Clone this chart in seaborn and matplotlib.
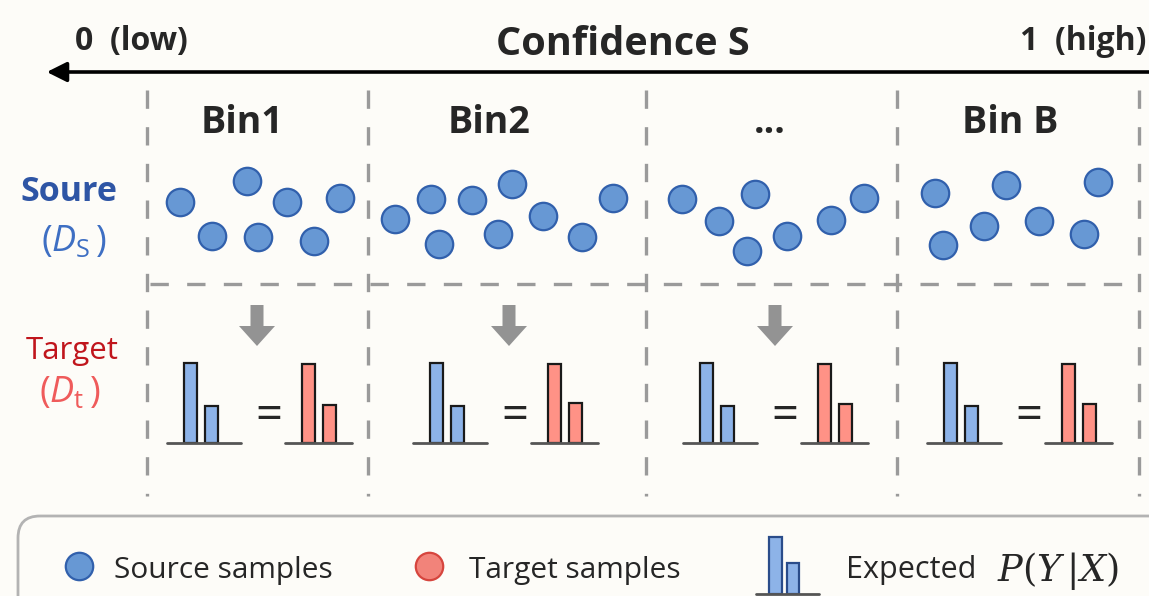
import numpy as np
import pandas as pd
import matplotlib.pyplot as plt
from matplotlib.patches import FancyBboxPatch, FancyArrow
import seaborn as sns

# confidence bins
bin_names = ["Bin1", "Bin2", "...", "Bin B"]

# source sample positions inside each bin (pixel coords, origin top-left)
bin1_x = [180, 212, 247, 258, 287, 314, 340]
bin1_y = [202, 236, 181, 237, 202, 241, 198]
bin2_x = [395, 431, 439, 472, 498, 512, 543, 582, 613]
bin2_y = [219, 199, 244, 200, 234, 184, 216, 237, 198]
bin3_x = [682, 719, 755, 747, 787, 831, 864]
bin3_y = [199, 221, 194, 251, 236, 220, 198]
binB_x = [935, 943, 984, 1006, 1039, 1084, 1098]
binB_y = [193, 245, 226, 185, 221, 234, 182]

# P(Y|X) per bin, two classes (tallest bar = 1)
source_hist = [[1.0, 0.46], [1.0, 0.46], [1.0, 0.46], [1.0, 0.46]]
target_hist = [[0.99, 0.47], [0.99, 0.50], [0.99, 0.49], [0.99, 0.49]]
legend_hist = [1.0, 0.54]

# layout (pixels)
W, H = 1149, 596
BG = "#FDFCF8"
bin_edges = [147, 368, 646, 897, 1139]
title_x = [242, 489, 770, 1010]
group_c = [259, 505, 775, 1019]
arrow_x = [257, 509, 775]

BLUE_DOT, BLUE_EDGE = "#6798D4", "#3160AC"
RED_DOT, RED_EDGE = "#F2837A", "#D6453E"
BLUE_BAR, RED_BAR = "#8DB3E8", "#FF9286"
GREY = "#9A9A9A"

sns.set_theme(style="white")
plt.rcParams["font.family"] = ["Open Sans", "DejaVu Sans"]
plt.rcParams["mathtext.fontset"] = "custom"
plt.rcParams["mathtext.rm"] = "Open Sans"
plt.rcParams["mathtext.it"] = "Open Sans:italic"
plt.rcParams["mathtext.bf"] = "Open Sans:bold"

fig = plt.figure(figsize=(W / 100, H / 100), dpi=100, facecolor=BG)
ax = fig.add_axes([0, 0, 1, 1])
ax.set_xlim(0, W)
ax.set_ylim(H, 0)
ax.axis("off")


def px_axes(x0, y_top, w, h):
    return fig.add_axes([x0 / W, 1 - (y_top + h) / H, w / W, h / H])


def draw_hist(x0, base_y, width, vals, face, edge, unit=21.2, height=80, off=23.3, bw=0.63):
    iax = px_axes(x0, base_y - height * 1.03, width, height * 1.03)
    sns.barplot(x=["c1", "c2"], y=vals, color=face, saturation=1, width=bw,
                edgecolor=edge, linewidth=1.6, ax=iax)
    iax.set_xlim(-off / unit, (width - off) / unit)
    iax.set_ylim(0, 1.03)
    iax.axhline(0, color="#555555", lw=2, clip_on=False)
    iax.axis("off")


# header: confidence axis
ax.annotate("", xy=(44, 72), xytext=(W + 5, 72),
            arrowprops=dict(arrowstyle="-|>", lw=2.6, color="black", mutation_scale=30))
ax.text(75, 50, "0  (low)", fontsize=23, fontweight="bold", ha="left", va="baseline")
ax.text(623, 55, "Confidence S", fontsize=28.5, fontweight="bold", ha="center", va="baseline")
ax.text(1146, 50, "1  (high)", fontsize=23, fontweight="bold", ha="right", va="baseline")

# dashed grid
for x in bin_edges:
    ax.plot([x, x], [90, 496], color=GREY, lw=2.4, dashes=(5.5, 5.5))
ax.plot([150, 1136], [284, 284], color=GREY, lw=2.4, dashes=(5.5, 5.5))

for name, tx in zip(bin_names, title_x):
    ax.text(tx, 133, name, fontsize=27, fontweight="bold", ha="center", va="baseline")

# row labels
ax.text(69, 201, "Soure", fontsize=24.5, fontweight="bold", color="#2E55A5", ha="center", va="baseline")
ax.text(74, 251, r"($D_{\mathrm{S}}\,$)", fontsize=26, color="#3E6FC3", ha="center", va="baseline")
ax.text(72, 359, "Target", fontsize=22.5, color="#C0151C", ha="center", va="baseline")
ax.text(70, 402, r"($D_{\mathrm{t}}\,$)", fontsize=26, color="#EF5B5B", ha="center", va="baseline")

# source samples
dots = pd.DataFrame({
    "x": bin1_x + bin2_x + bin3_x + binB_x,
    "y": bin1_y + bin2_y + bin3_y + binB_y,
})
sns.scatterplot(data=dots, x="x", y="y", s=390, color=BLUE_DOT, edgecolor=BLUE_EDGE,
                linewidth=1.6, ax=ax, legend=False, zorder=3)
ax.set_xlabel("")
ax.set_ylabel("")

# arrows source -> target
for x in arrow_x:
    ax.add_patch(FancyArrow(x, 305, 0, 41, width=13, head_width=36, head_length=20,
                            length_includes_head=True, color="#939393", lw=0))

# expected P(Y|X): source == target in every bin
for c, sv, tv in zip(group_c, source_hist, target_hist):
    draw_hist(c - 92, 443, 74, sv, BLUE_BAR, "#1A1A1A")
    ax.text(c + 10, 429, "=", fontsize=34, ha="center", va="baseline")
    draw_hist(c + 26, 443, 67, tv, RED_BAR, "#1A1A1A", off=23.5)

# legend box
ax.add_patch(FancyBboxPatch((18, 516), 1200, 200, boxstyle="round,pad=0,rounding_size=22",
                            fc="none", ec="#B3B3B3", lw=2))
sns.scatterplot(x=[79], y=[566], s=390, color=BLUE_DOT, edgecolor=BLUE_EDGE,
                linewidth=1.6, ax=ax, legend=False)
sns.scatterplot(x=[429], y=[566], s=390, color=RED_DOT, edgecolor=RED_EDGE,
                linewidth=1.6, ax=ax, legend=False)
ax.set_xlabel("")
ax.set_ylabel("")
ax.text(114, 578, "Source samples", fontsize=21.5, ha="left", va="baseline")
ax.text(469, 578, "Target samples", fontsize=21.5, ha="left", va="baseline")
draw_hist(756, 594, 63, legend_hist, BLUE_BAR, "#2A4C8A", unit=17.5, height=57, off=19.5, bw=0.7)
ax.text(846, 578, "Expected", fontsize=22, ha="left", va="baseline")
ax.text(997, 581, r"$P(Y\,|X)$", fontsize=26.5, ha="left", va="baseline", math_fontfamily="dejavuserif")

fig.savefig("out.png", dpi=100, facecolor=BG)
